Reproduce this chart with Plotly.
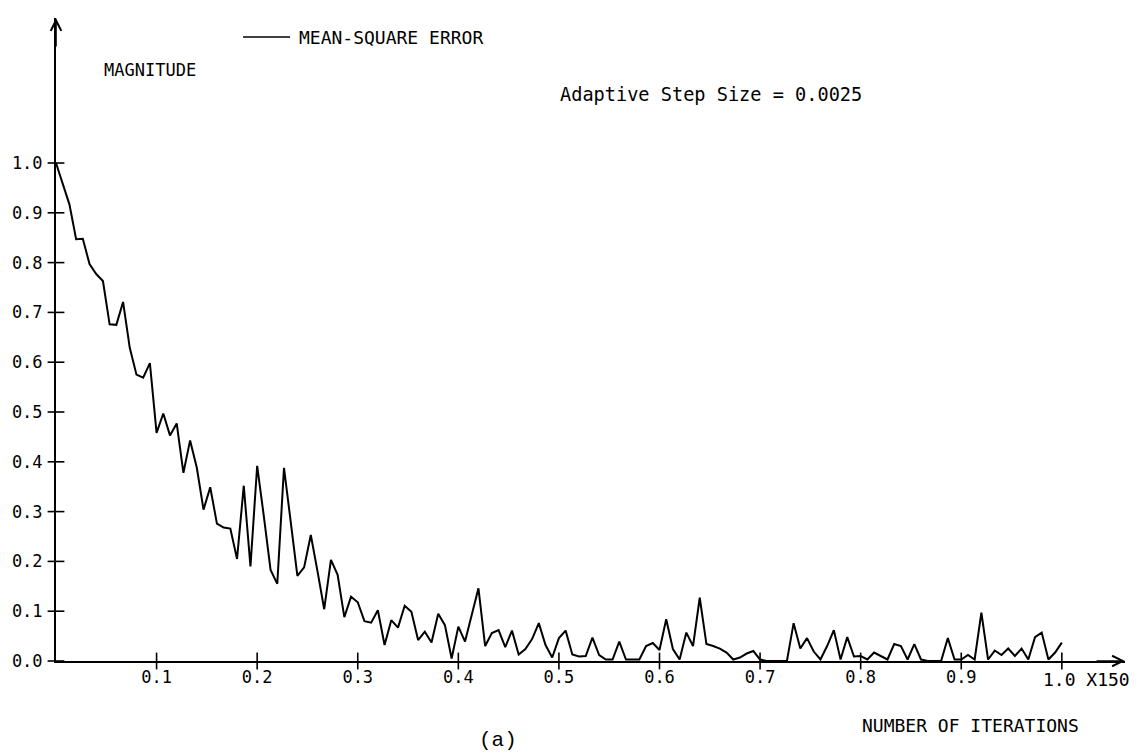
import plotly.graph_objects as go

# Mean-square error per iteration (151 samples, x scaled by 150 iterations)
mse = [
    1.0, 0.96, 0.917, 0.847, 0.848, 0.797, 0.777, 0.763, 0.676, 0.675,
    0.721, 0.629, 0.575, 0.569, 0.598, 0.458, 0.497, 0.453, 0.477, 0.378,
    0.443, 0.388, 0.304, 0.349, 0.276, 0.268, 0.266, 0.205, 0.352, 0.19,
    0.392, 0.29, 0.183, 0.155, 0.388, 0.28, 0.171, 0.188, 0.253, 0.18,
    0.104, 0.203, 0.173, 0.088, 0.129, 0.118, 0.08, 0.077, 0.102, 0.032,
    0.082, 0.067, 0.111, 0.099, 0.042, 0.059, 0.037, 0.095, 0.072, 0.005,
    0.069, 0.039, 0.091, 0.146, 0.030, 0.056, 0.062, 0.028, 0.061, 0.013,
    0.024, 0.044, 0.076, 0.032, 0.007, 0.046, 0.061, 0.013, 0.009, 0.010,
    0.047, 0.012, 0.003, 0.003, 0.039, 0.003, 0.003, 0.003, 0.030, 0.036,
    0.022, 0.084, 0.024, 0.003, 0.057, 0.030, 0.127, 0.034, 0.030, 0.025,
    0.017, 0.003, 0.007, 0.015, 0.020, 0.003, 0.0, 0.0, 0.0, 0.0,
    0.076, 0.025, 0.046, 0.019, 0.003, 0.030, 0.062, 0.003, 0.048, 0.009,
    0.010, 0.003, 0.017, 0.010, 0.003, 0.034, 0.030, 0.003, 0.034, 0.003,
    0.0, 0.0, 0.0, 0.046, 0.003, 0.003, 0.012, 0.003, 0.097, 0.003,
    0.021, 0.012, 0.025, 0.010, 0.025, 0.003, 0.048, 0.057, 0.003, 0.017,
    0.037,
]
n_iter = 150
x_vals = [i / n_iter for i in range(len(mse))]

x_ticks = [0.1, 0.2, 0.3, 0.4, 0.5, 0.6, 0.7, 0.8, 0.9, 1.0]
x_ticktext = ["0.1", "0.2", "0.3", "0.4", "0.5", "0.6", "0.7", "0.8", "0.9"]
y_ticks = [0.0, 0.1, 0.2, 0.3, 0.4, 0.5, 0.6, 0.7, 0.8, 0.9, 1.0]
y_ticktext = ["0.0", "0.1", "0.2", "0.3", "0.4", "0.5", "0.6", "0.7", "0.8", "0.9", "1.0"]

FONT = "DejaVu Sans Mono"
X_MAX = 1.0628
Y_MAX = 1.2912

fig = go.Figure()
fig.add_trace(go.Scatter(
    x=x_vals, y=mse, mode="lines", name="MEAN-SQUARE ERROR",
    line=dict(color="black", width=2), showlegend=False,
))
# crossing tick marks
fig.add_trace(go.Scatter(
    x=x_ticks, y=[0] * len(x_ticks), mode="markers", showlegend=False, hoverinfo="skip",
    marker=dict(symbol="line-ns-open", size=12, color="black",
                line=dict(width=1.6, color="black")),
    cliponaxis=False,
))
fig.add_trace(go.Scatter(
    x=[0] * len(y_ticks), y=y_ticks, mode="markers", showlegend=False, hoverinfo="skip",
    marker=dict(symbol="line-ew-open", size=12, color="black",
                line=dict(width=1.6, color="black")),
    cliponaxis=False,
))

fig.update_layout(
    width=1146, height=752,
    margin=dict(l=56, r=21, t=18, b=91),
    paper_bgcolor="white", plot_bgcolor="white",
    font=dict(family=FONT, color="black", size=17),
    xaxis=dict(range=[0, X_MAX], showgrid=False, zeroline=False,
               showline=True, linecolor="black", linewidth=2,
               tickvals=x_ticks[:-1], ticktext=x_ticktext, ticks="",
               ticklabelstandoff=0, tickfont=dict(size=17)),
    yaxis=dict(range=[0, Y_MAX], showgrid=False, zeroline=False,
               showline=True, linecolor="black", linewidth=2,
               tickvals=y_ticks, ticktext=y_ticktext, ticks="",
               ticklabelstandoff=8, tickfont=dict(size=17)),
)

# axis arrowheads
fig.add_annotation(x=X_MAX, y=0, xref="x", yref="y", ax=-30, ay=0, text="",
                   showarrow=True, arrowhead=5, arrowsize=1.3, arrowwidth=1.6,
                   arrowcolor="black", standoff=0)
fig.add_annotation(x=0, y=Y_MAX, xref="x", yref="y", ax=0, ay=30, text="",
                   showarrow=True, arrowhead=5, arrowsize=1.3, arrowwidth=1.6,
                   arrowcolor="black", standoff=0)

# texts
fig.add_annotation(x=1.0, y=0, xref="x", yref="y", text="1.0 X150", showarrow=False,
                   xanchor="left", yanchor="middle", xshift=-21, yshift=-18,
                   font=dict(size=18))
fig.add_annotation(x=(150 - 56) / 1069, y=(661 - 70) / 643, xref="paper", yref="paper",
                   text="MAGNITUDE", showarrow=False, xanchor="center", yanchor="middle",
                   font=dict(size=17))
fig.add_annotation(x=(297 - 56) / 1069, y=(661 - 37) / 643, xref="paper", yref="paper",
                   text="MEAN-SQUARE ERROR", showarrow=False, xanchor="left", yanchor="middle",
                   font=dict(size=18))
fig.add_shape(type="line", xref="paper", yref="paper",
              x0=(243 - 56) / 1069, x1=(290 - 56) / 1069,
              y0=(661 - 37) / 643, y1=(661 - 37) / 643,
              line=dict(color="black", width=1.5))
fig.add_annotation(x=(558 - 56) / 1069, y=(661 - 95) / 643, xref="paper", yref="paper",
                   text="Adaptive Step Size = 0.0025", showarrow=False,
                   xanchor="left", yanchor="middle", font=dict(size=18.6))
fig.add_annotation(x=(970 - 56) / 1069, y=(661 - 725) / 643, xref="paper", yref="paper",
                   text="NUMBER OF ITERATIONS", showarrow=False,
                   xanchor="center", yanchor="middle", font=dict(size=18))
fig.add_annotation(x=(477 - 56) / 1069, y=(661 - 741) / 643, xref="paper", yref="paper",
                   text="(a)", showarrow=False, xanchor="left", yanchor="middle",
                   font=dict(family="Liberation Mono", size=21))

fig.write_html("out.html")
